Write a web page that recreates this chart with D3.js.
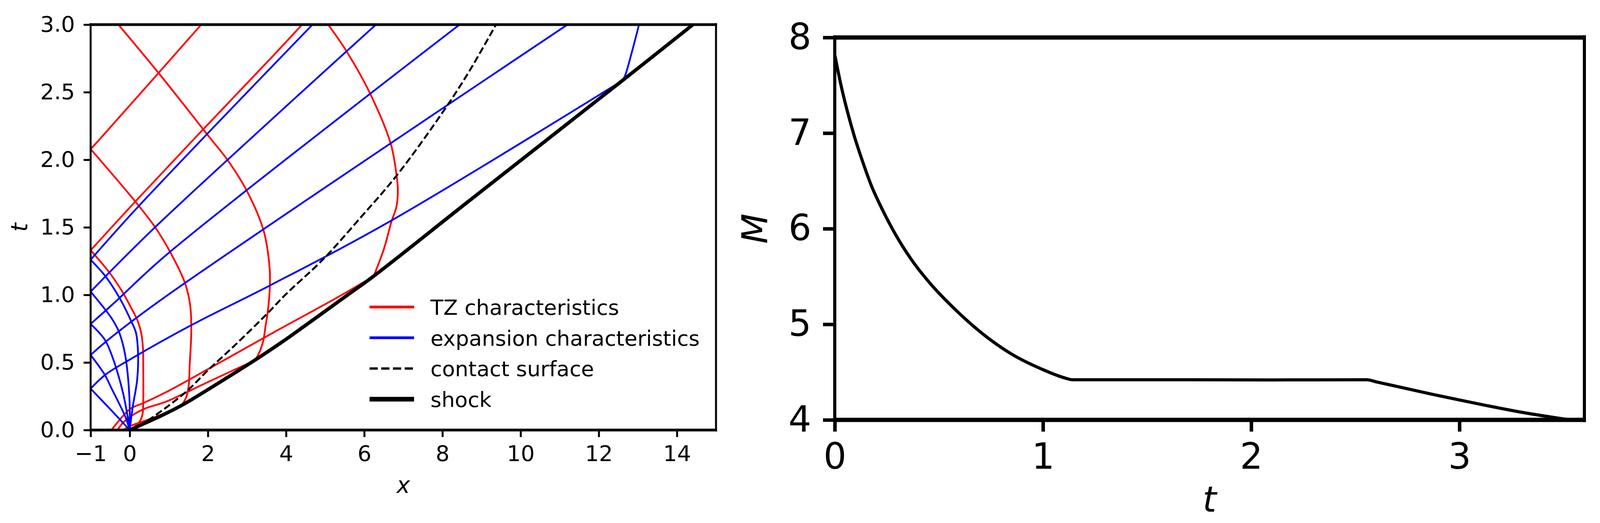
<!DOCTYPE html>
<html lang="en">
    <head>
        <meta charset="utf-8" />
        <title>Shock tube characteristics</title>
        <script type="text/javascript" src="https://cdn.jsdelivr.net/npm/d3@7"></script>
        <style type="text/css">
            body {
                margin: 0;
                background: white;
            }
            text {
                font-family: "DejaVu Sans", sans-serif;
            }
        </style>
    </head>
    <body>
        <script type="text/javascript">
            // ---- left panel: x-t diagram ----
            var xTicksLeft = [-1, 0, 2, 4, 6, 8, 10, 12, 14];
            var tTicksLeft = [0, 0.5, 1.0, 1.5, 2.0, 2.5, 3.0];

            var shockPts = [[0, 0], [0.4, 0.052], [0.8, 0.105], [1.35, 0.186], [2.2, 0.335], [3.18, 0.513],
                [3.88, 0.648], [5.577, 1.0], [6.243, 1.139], [8.675, 1.694], [12.6, 2.585], [14.41, 3.0]];

            var contactPts = [[0, 0], [0.4, 0.06], [0.9, 0.16], [1.45, 0.285], [2.015, 0.446], [2.7, 0.63],
                [3.548, 0.87], [3.978, 1.0], [4.944, 1.262], [5.9, 1.57], [6.843, 1.888], [8.008, 2.352],
                [8.675, 2.649], [9.37, 3.0]];

            // TZ characteristics (red), one array per segment between reflections
            var tzLines = [
                [[-0.47, 0], [-0.33, 0.05], [-0.17, 0.105], [0.03, 0.16], [0.35, 0.2], [0.93, 0.28], [2.0, 0.45], [3.68, 0.722], [5.41, 0.997], [6.243, 1.139]],
                [[6.243, 1.139], [6.51, 1.346], [6.693, 1.539], [6.826, 1.655], [6.86, 1.784], [6.826, 1.888], [6.676, 2.12], [6.143, 2.494], [5.544, 2.804], [5.077, 3.0]],
                [[-0.32, 0], [-0.15, 0.06], [0.1, 0.115], [0.4, 0.16], [0.93, 0.21], [2.0, 0.355], [3.18, 0.513]],
                [[3.18, 0.513], [3.28, 0.552], [3.414, 0.658], [3.48, 0.78], [3.53, 0.87], [3.585, 1.063], [3.577, 1.207], [3.424, 1.477], [3.003, 1.766], [2.505, 1.997], [2.028, 2.171], [0.8, 2.62], [-0.29, 3.0]],
                [[-0.17, 0], [0.0, 0.028], [0.15, 0.045], [0.5, 0.08], [1.0, 0.138], [1.32, 0.182]],
                [[1.32, 0.182], [1.4, 0.215], [1.46, 0.255], [1.51, 0.33], [1.535, 0.485], [1.575, 0.73], [1.549, 0.918], [1.415, 1.087], [1.052, 1.308], [0.65, 1.501], [0.134, 1.694], [-1, 2.079]],
                [[-1, 2.079], [-0.708, 2.171], [1.83, 3.0]],
                [[0.0, 0.0], [0.15, 0.03], [0.27, 0.07], [0.33, 0.12], [0.346, 0.2], [0.346, 0.45], [0.34, 0.6], [0.3, 0.71], [0.2, 0.81], [0.03, 0.908], [-0.17, 1.014], [-0.503, 1.159], [-1, 1.33]],
                [[-1, 1.33], [0.134, 1.688], [1.702, 2.171], [3.678, 2.772], [4.41, 3.0]]
            ];

            // expansion characteristics (blue): fan from the origin, then wall reflections
            var expLines = [
                [[0, 0], [-0.5, 0.155], [-1, 0.306]],
                [[0, 0], [-0.1, 0.09], [-0.27, 0.196], [-0.47, 0.311], [-0.636, 0.408], [-1, 0.555]],
                [[0, 0], [-0.07, 0.128], [-0.17, 0.273], [-0.303, 0.417], [-0.47, 0.562], [-0.636, 0.668], [-1, 0.785]],
                [[0, 0], [0.0, 0.176], [-0.037, 0.369], [-0.103, 0.533], [-0.18, 0.64], [-0.287, 0.735], [-0.47, 0.83], [-0.65, 0.9], [-1, 1.024]],
                [[0, 0], [0.08, 0.176], [0.19, 0.369], [0.215, 0.55], [0.16, 0.72], [0.03, 0.81], [-0.17, 0.93], [-0.4, 1.045], [-0.64, 1.145], [-1, 1.26]],
                [[-1, 0.306], [-0.62, 0.41], [-0.017, 0.518], [1.57, 0.775], [3.577, 1.068], [6.693, 1.55], [12.6, 2.585]],
                [[12.6, 2.585], [12.67, 2.62], [12.85, 2.8], [13.03, 3.0]],
                [[-1, 0.555], [-0.5, 0.68], [0.93, 0.99], [11.2, 3.0]],
                [[-1, 0.785], [-0.4, 0.94], [0.93, 1.294], [8.44, 3.0]],
                [[-1, 1.024], [0.65, 1.501], [6.3, 3.0]],
                [[-1, 1.26], [0.211, 1.651], [4.677, 3.0]]
            ];

            var legendLabels = ["TZ characteristics", "expansion characteristics", "contact surface", "shock"];
            var legendColors = ["#ff0000", "#0000ff", "#000000", "#000000"];

            // ---- right panel: shock Mach number ----
            var machT = [0, 0.03, 0.059, 0.095, 0.131, 0.174, 0.224, 0.289, 0.367, 0.461, 0.576, 0.705,
                0.848, 0.992, 1.112, 1.14, 1.6, 2.1, 2.556, 2.6, 2.86, 2.994, 3.285, 3.53];
            var machM = [7.82, 7.5, 7.24, 6.96, 6.72, 6.46, 6.22, 5.95, 5.68, 5.42, 5.16, 4.91,
                4.69, 4.533, 4.434, 4.42, 4.42, 4.418, 4.42, 4.398, 4.272, 4.211, 4.085, 4.0];
            var tTicksRight = [0, 1, 2, 3];
            var mTicksRight = [4, 5, 6, 7, 8];

            var w = 4110;
            var h = 1339;

            var svg = d3
                .select("body")
                .append("svg")
                .attr("width", w)
                .attr("height", h);

            svg.append("rect")
                .attr("width", w)
                .attr("height", h)
                .attr("fill", "white");

            // scales
            var xL = d3.scaleLinear().domain([-1, 15]).range([232, 1833]);
            var yL = d3.scaleLinear().domain([0, 3]).range([1101, 63]);
            var xR = d3.scaleLinear().domain([0, 3.6]).range([2137, 4056]);
            var yR = d3.scaleLinear().domain([4, 8]).range([1075, 96]);

            var lineL = d3
                .line()
                .x(function(d) {
                    return xL(d[0]);
                })
                .y(function(d) {
                    return yL(d[1]);
                })
                .curve(d3.curveCatmullRom.alpha(0.5));

            var defs = svg.append("defs");
            defs.append("clipPath")
                .attr("id", "clipL")
                .append("rect")
                .attr("x", xL(-1))
                .attr("y", yL(3))
                .attr("width", xL(15) - xL(-1))
                .attr("height", yL(0) - yL(3));
            defs.append("clipPath")
                .attr("id", "clipR")
                .append("rect")
                .attr("x", xR(0))
                .attr("y", yR(8))
                .attr("width", xR(3.6) - xR(0))
                .attr("height", yR(4) - yR(8));

            var plotL = svg.append("g").attr("clip-path", "url(#clipL)");

            plotL.selectAll("path.tz")
                .data(tzLines)
                .enter()
                .append("path")
                .attr("class", "tz")
                .attr("d", lineL)
                .attr("fill", "none")
                .attr("stroke", "#ff0000")
                .attr("stroke-width", 4.5);

            plotL.selectAll("path.exp")
                .data(expLines)
                .enter()
                .append("path")
                .attr("class", "exp")
                .attr("d", lineL)
                .attr("fill", "none")
                .attr("stroke", "#0000ff")
                .attr("stroke-width", 4.5);

            plotL.append("path")
                .datum(contactPts)
                .attr("d", lineL)
                .attr("fill", "none")
                .attr("stroke", "black")
                .attr("stroke-width", 5)
                .attr("stroke-dasharray", "18,8");

            plotL.append("path")
                .datum(shockPts)
                .attr("d", lineL)
                .attr("fill", "none")
                .attr("stroke", "black")
                .attr("stroke-width", 9);

            // legend (no frame)
            var legend = svg.append("g");
            legendLabels.forEach(function(lab, i) {
                var ly = 786 + i * 78.7;
                var ln = legend.append("line")
                    .attr("x1", 946)
                    .attr("x2", 1060)
                    .attr("y1", ly)
                    .attr("y2", ly)
                    .attr("stroke", legendColors[i])
                    .attr("stroke-width", i == 3 ? 12 : (i == 2 ? 6 : 7));
                if (i == 2) {
                    ln.attr("stroke-dasharray", "21,9");
                }
                legend.append("text")
                    .attr("x", 1102)
                    .attr("y", ly + 20)
                    .attr("font-size", "54px")
                    .attr("fill", "black")
                    .text(lab);
            });

            // right panel curve
            var lineR = d3
                .line()
                .x(function(d, i) {
                    return xR(machT[i]);
                })
                .y(function(d) {
                    return yR(d);
                })
                .curve(d3.curveMonotoneX);

            svg.append("g")
                .attr("clip-path", "url(#clipR)")
                .append("path")
                .datum(machM)
                .attr("d", lineR)
                .attr("fill", "none")
                .attr("stroke", "black")
                .attr("stroke-width", 8);

            // axes
            function styleAxis(g, tickW, fontSize) {
                g.select(".domain").remove();
                g.selectAll(".tick line").attr("stroke", "black").attr("stroke-width", tickW);
                g.selectAll(".tick text")
                    .attr("fill", "black")
                    .attr("font-size", fontSize)
                    .attr("font-family", "DejaVu Sans, sans-serif");
            }

            svg.append("g")
                .attr("transform", "translate(0," + yL(0) + ")")
                .call(d3.axisBottom(xL).tickValues(xTicksLeft).tickFormat(d3.format("d")).tickSize(18).tickPadding(21))
                .call(styleAxis, 5, "56px");
            svg.append("g")
                .attr("transform", "translate(" + xL(-1) + ",0)")
                .call(d3.axisLeft(yL).tickValues(tTicksLeft).tickFormat(d3.format(".1f")).tickSize(18).tickPadding(22))
                .call(styleAxis, 5, "56px");

            svg.append("g")
                .attr("transform", "translate(0," + yR(4) + ")")
                .call(d3.axisBottom(xR).tickValues(tTicksRight).tickFormat(d3.format("d")).tickSize(30).tickPadding(30))
                .call(styleAxis, 9, "92px");
            svg.append("g")
                .attr("transform", "translate(" + xR(0) + ",0)")
                .call(d3.axisLeft(yR).tickValues(mTicksRight).tickFormat(d3.format("d")).tickSize(30).tickPadding(30))
                .call(styleAxis, 9, "92px");

            // spines: horizontal ones look heavier than vertical ones in the reference
            function spines(xs, ys, hw, vw) {
                var r = xs.range(), d = ys.range();
                var x0 = r[0], x1 = r[1], y0 = d[1], y1 = d[0];
                var g = svg.append("g").attr("stroke", "black");
                g.append("line").attr("x1", x0).attr("x2", x0).attr("y1", y0 - hw / 2).attr("y2", y1 + hw / 2).attr("stroke-width", vw);
                g.append("line").attr("x1", x1).attr("x2", x1).attr("y1", y0 - hw / 2).attr("y2", y1 + hw / 2).attr("stroke-width", vw);
                g.append("line").attr("x1", x0 - vw / 2).attr("x2", x1 + vw / 2).attr("y1", y0).attr("y2", y0).attr("stroke-width", hw);
                g.append("line").attr("x1", x0 - vw / 2).attr("x2", x1 + vw / 2).attr("y1", y1).attr("y2", y1).attr("stroke-width", hw);
            }
            spines(xL, yL, 7, 5);
            spines(xR, yR, 11, 8);

            // axis labels
            svg.append("text")
                .attr("x", (xL(-1) + xL(15)) / 2)
                .attr("y", 1262)
                .attr("text-anchor", "middle")
                .attr("font-size", "58px")
                .attr("font-style", "italic")
                .text("x");
            svg.append("text")
                .attr("transform", "translate(70," + (yL(0) + yL(3)) / 2 + ") rotate(-90)")
                .attr("text-anchor", "middle")
                .attr("font-size", "58px")
                .attr("font-style", "italic")
                .text("t");
            svg.append("text")
                .attr("x", (xR(0) + xR(3.6)) / 2)
                .attr("y", 1310)
                .attr("text-anchor", "middle")
                .attr("font-size", "90px")
                .attr("font-style", "italic")
                .text("t");
            svg.append("text")
                .attr("transform", "translate(1964," + (yR(4) + yR(8)) / 2 + ") rotate(-90)")
                .attr("text-anchor", "middle")
                .attr("font-size", "90px")
                .attr("font-style", "italic")
                .text("M");
        </script>
    </body>
</html>
